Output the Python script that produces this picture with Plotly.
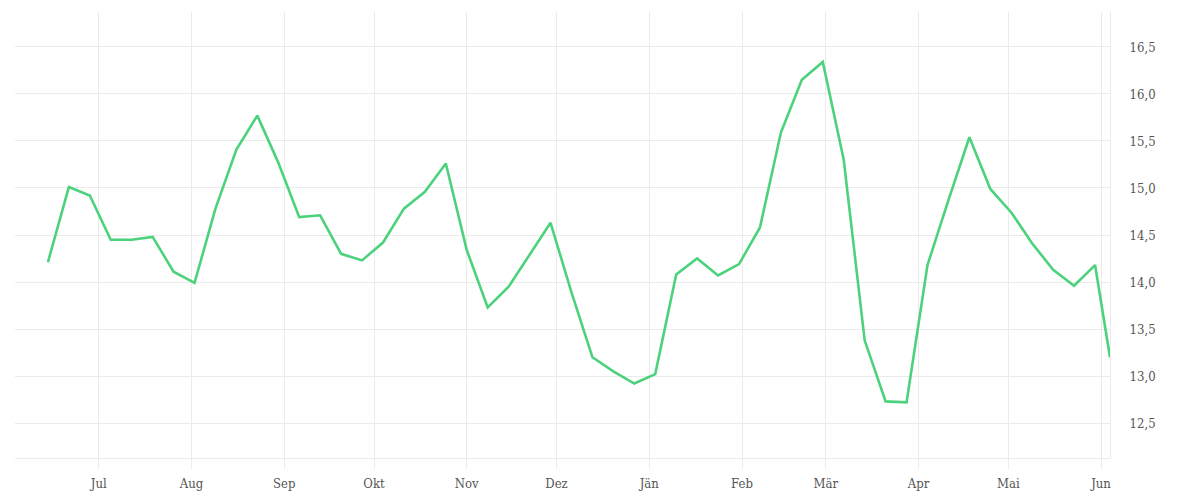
import pandas as pd
import plotly.graph_objects as go

start_date = "2022-06-14"
last_date = "2023-06-04"
values = [
    14.21, 15.01, 14.92, 14.45, 14.45, 14.48, 14.11, 13.99, 14.78, 15.41,
    15.77, 15.27, 14.69, 14.71, 14.30, 14.23, 14.42, 14.78, 14.96, 15.26,
    14.34, 13.73, 13.95, 14.29, 14.63, 13.89, 13.20, 13.05, 12.92, 13.02,
    14.08, 14.25, 14.07, 14.19, 14.58, 15.59, 16.15, 16.34, 15.30, 13.38,
    12.73, 12.72, 14.18, 14.87, 15.54, 14.99, 14.74, 14.41, 14.13, 13.96,
    14.18, 13.20,
]
month_ticks = ["2022-07-01", "2022-08-01", "2022-09-01", "2022-10-01", "2022-11-01",
               "2022-12-01", "2023-01-01", "2023-02-01", "2023-03-01", "2023-04-01",
               "2023-05-01", "2023-06-01"]
month_labels = ["Jul", "Aug", "Sep", "Okt", "Nov", "Dez", "Jän", "Feb", "Mär",
                "Apr", "Mai", "Jun"]
y_ticks = [12.5, 13.0, 13.5, 14.0, 14.5, 15.0, 15.5, 16.0, 16.5]
y_labels = ["12,5", "13,0", "13,5", "14,0", "14,5", "15,0", "15,5", "16,0", "16,5"]

dates = list(pd.date_range(start_date, periods=len(values) - 1, freq="7D")) + [pd.Timestamp(last_date)]

grid = "#ebebeb"
font = dict(family="DejaVu Serif Condensed, DejaVu Serif, serif", size=13, color="#555555")

fig = go.Figure()
fig.add_trace(go.Scatter(x=dates, y=values, mode="lines",
                         line=dict(color="#4cd27c", width=2.6), hoverinfo="x+y"))

fig.update_layout(
    width=1200, height=500,
    margin=dict(l=15, r=90, t=12, b=42),
    plot_bgcolor="white", paper_bgcolor="white",
    showlegend=False, font=font,
)
fig.update_xaxes(
    range=["2022-06-03", "2023-06-04"],
    tickvals=month_ticks, ticktext=month_labels,
    showgrid=True, gridcolor=grid, gridwidth=1,
    ticks="outside", ticklen=10, tickcolor=grid,
    showline=True, linecolor=grid, linewidth=1,
    zeroline=False, tickfont=font, ticklabelstandoff=3,
    automargin=False,
)
fig.update_yaxes(
    side="right", range=[12.128, 16.872],
    tickvals=y_ticks, ticktext=y_labels,
    showgrid=True, gridcolor=grid, gridwidth=1,
    ticks="", showline=True, linecolor=grid, linewidth=1,
    zeroline=False, tickfont=font, ticklabelstandoff=16,
    automargin=False,
)
fig.write_html("out.html")
